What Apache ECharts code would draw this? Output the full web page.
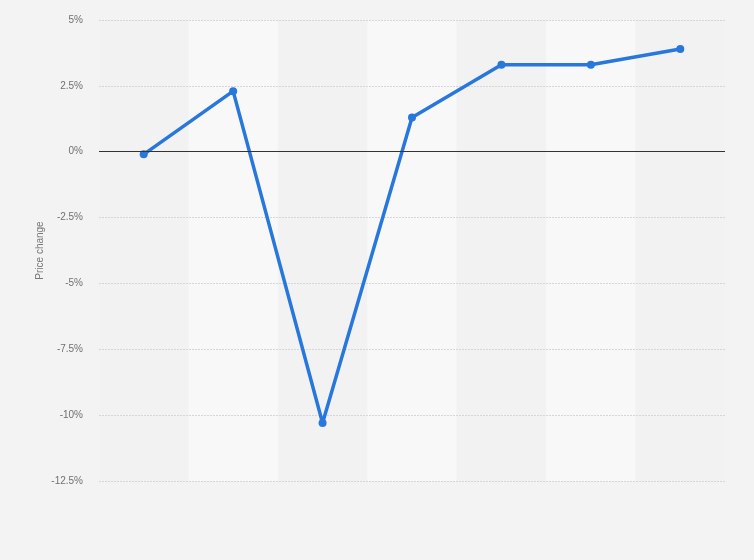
<!DOCTYPE html>
<html>
<head>
<meta charset="utf-8">
<script src="https://cdn.jsdelivr.net/npm/echarts@6/dist/echarts.min.js"></script>
<style>
html,body{margin:0;padding:0;background:#f3f3f3;}
#c{width:754px;height:560px;}
</style>
</head>
<body>
<div id="c"></div>
<script>
const categories = ['1', '2', '3', '4', '5', '6', '7'];
const priceChange = [-0.1, 2.3, -10.3, 1.3, 3.3, 3.3, 3.9];
const yTicks = { min: -12.5, max: 5, interval: 2.5 };
const yAxisName = 'Price change';

const chart = echarts.init(document.getElementById('c'));
chart.setOption({
  backgroundColor: '#f3f3f3',
  animation: false,
  grid: { left: 99, right: 29, top: 20, bottom: 79 },
  xAxis: {
    type: 'category',
    data: categories,
    boundaryGap: true,
    z: 0,
    axisLine: { show: false },
    axisTick: { show: false },
    axisLabel: { show: false },
    splitLine: { show: false },
    splitArea: { show: true, areaStyle: { color: ['#f2f2f2', '#f8f8f8'] } }
  },
  yAxis: {
    type: 'value',
    min: yTicks.min,
    max: yTicks.max,
    interval: yTicks.interval,
    z: 1,
    name: yAxisName,
    nameLocation: 'middle',
    nameRotate: 90,
    nameGap: 54,
    nameMoveOverlap: false,
    nameTextStyle: { color: '#777', fontSize: 10, fontFamily: 'Liberation Sans, Arial, sans-serif' },
    axisLine: { show: false },
    axisTick: { show: false },
    axisLabel: {
      color: '#707070', fontSize: 10, margin: 16,
      fontFamily: 'Liberation Sans, Arial, sans-serif',
      formatter: v => v + '%'
    },
    splitLine: { show: true, lineStyle: { color: '#d6d6d6', type: [2, 1], width: 1 } }
  },
  series: [{
    type: 'line',
    data: priceChange,
    symbol: 'circle',
    symbolSize: 8,
    lineStyle: { color: '#2877dd', width: 3.5 },
    itemStyle: { color: '#2877dd' },
    markLine: {
      silent: true,
      symbol: 'none',
      label: { show: false },
      lineStyle: { color: '#333', width: 1.2, type: 'solid' },
      data: [{ yAxis: 0 }]
    },
    z: 3
  }]
});
</script>
</body>
</html>
